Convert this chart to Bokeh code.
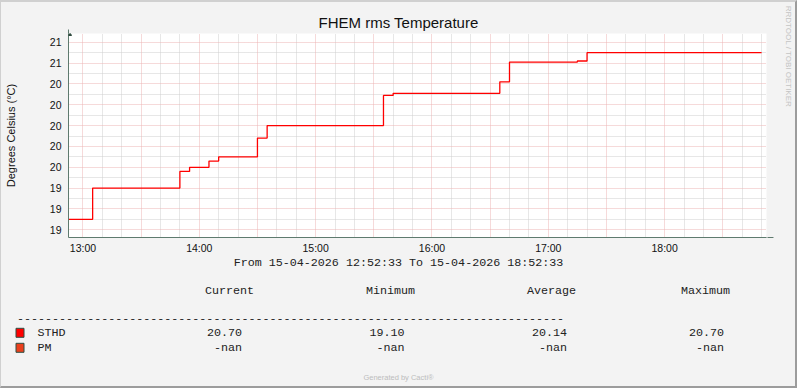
import math
import pandas as pd
from bokeh.plotting import figure
from bokeh.layouts import column, row
from bokeh.models import (Range1d, FixedTicker, DatetimeTickFormatter, PrintfTickFormatter,
                          Grid, Arrow, NormalHead)
from bokeh.core.properties import value
from bokeh.embed import file_html
from bokeh.resources import INLINE

# ---------------- data ----------------
date = "2026-04-15"
start_time = "12:52:33"
end_time = "18:52:33"
step_times = ["12:52:33", "13:05", "13:50", "13:55", "14:05", "14:10", "14:30", "14:35",
              "15:35", "15:40", "16:35", "16:40", "17:15", "17:20", "18:50"]
sthd_values = [19.10, 19.40, 19.56, 19.60, 19.66, 19.70, 19.88, 20.00,
               20.29, 20.31, 20.42, 20.61, 20.62, 20.70, 20.70]
x_tick_labels = ["13:00", "14:00", "15:00", "16:00", "17:00", "18:00"]
y_ticks = [19.0, 19.2, 19.4, 19.6, 19.8, 20.0, 20.2, 20.4, 20.6, 20.8]
y_min, y_max = 18.926, 20.884
series_names = ["STHD", "PM"]
series_colors = ["#FF0000", "#EA3F1C"]
stat_headers = ["Current", "Minimum", "Average", "Maximum"]
sthd_stats = ["20.70", "19.10", "20.14", "20.70"]
pm_stats = ["-nan", "-nan", "-nan", "-nan"]
title_text = "FHEM rms Temperature"
y_label = "Degrees Celsius (°C)"
range_text = "From 15-04-2026 12:52:33 To 15-04-2026 18:52:33"
footer_text = "Generated by Cacti®"
side_text = "RRDTOOL / TOBI OETIKER"


def ts(t):
    return pd.Timestamp(f"{date} {t}").value / 1e6


x0, x1 = ts(start_time), ts(end_time)
xs = [ts(t) for t in step_times]

BG = "#F3F3F3"
W, H = 797, 388
BL, BT, BR, BB = 1, 2, 2, 2          # page border widths
FL, FR, FT, FB = 66, 766, 33, 237    # plot frame, absolute px
SPLIT = 256                          # absolute y where legend figure starts
SIDE = 775                           # absolute x where the side strip starts
IW = W - BL - BR


def blank(fig):
    fig.frame_align = False
    fig.background_fill_color = BG
    fig.border_fill_color = BG
    fig.outline_line_color = None
    fig.xgrid.visible = False
    fig.ygrid.visible = False


# ---------------- main chart ----------------
p = figure(width=SIDE - BL, height=SPLIT - BT, output_backend="svg", toolbar_location=None,
           x_axis_type="datetime",
           x_range=Range1d(x0, x1), y_range=Range1d(y_min, y_max),
           min_border_left=FL - BL, min_border_right=SIDE - FR,
           min_border_top=FT - BT, min_border_bottom=SPLIT - FB)
p.frame_align = False
p.background_fill_color = "white"
p.border_fill_color = BG
p.outline_line_color = None

p.title.text = title_text
p.title.text_font = "Liberation Sans"
p.title.text_font_size = "15px"
p.title.text_font_style = "normal"
p.title.text_color = "#111111"
p.title.align = "left"
p.title.offset = 316 - FL
p.title.standoff = 5

# grids
p.xgrid.visible = False
p.ygrid.visible = False
minor_x, major_x = [], []
t = ts("12:50")
while t <= x1:
    if t >= x0:
        if int(round((t - ts("13:00")) / 60000)) % 30 == 0:
            major_x.append(t)
        else:
            minor_x.append(t)
    t += 10 * 60000
minor_y = [v + 0.1 for v in y_ticks]
for dim, ticks, col in [(0, minor_x, "#CFCFCF"), (1, minor_y, "#CFCFCF"),
                        (0, major_x, "#EDB4B4"), (1, y_ticks, "#EDB4B4")]:
    p.add_layout(Grid(dimension=dim, ticker=FixedTicker(ticks=ticks),
                      grid_line_color=col, grid_line_dash="1 1", grid_line_width=1))

# series
p.step(xs, sthd_values, mode="after", line_color=series_colors[0], line_width=1.3)

# axes
axis_col = "#5E7A6E"
p.xaxis.ticker = FixedTicker(ticks=[ts(l) for l in x_tick_labels])
p.xaxis.formatter = DatetimeTickFormatter(hours="%H:%M", hourmin="%H:%M", minutes="%H:%M",
                                          minsec="%H:%M", days="%H:%M", context=None)
p.yaxis.ticker = FixedTicker(ticks=y_ticks)
p.yaxis.formatter = PrintfTickFormatter(format="%.0f")
for ax in (p.xaxis, p.yaxis):
    ax.axis_line_color = axis_col
    ax.axis_line_width = 1
    ax.major_tick_out = 0
    ax.major_tick_in = 0
    ax.minor_tick_out = 0
    ax.minor_tick_in = 0
    ax.major_label_text_font = "Liberation Sans"
    ax.major_label_text_font_size = "10.5px"
    ax.major_label_text_color = "#111111"
p.xaxis.major_label_standoff = 4
p.yaxis.major_label_standoff = 7
p.yaxis.axis_label = y_label
p.yaxis.axis_label_text_font = "Liberation Sans"
p.yaxis.axis_label_text_font_size = "11px"
p.yaxis.axis_label_text_font_style = "normal"
p.yaxis.axis_label_text_color = "#111111"
p.yaxis.axis_label_standoff = 30

# axis arrows
ms_per_px = (x1 - x0) / (FR - FL)
deg_per_px = (y_max - y_min) / (FB - FT)
p.add_layout(Arrow(x_start=x1, y_start=y_min, x_end=x1 + 7 * ms_per_px, y_end=y_min,
                   line_color=axis_col, line_width=1,
                   end=NormalHead(size=6, fill_color="#2E4A3E", line_color="#2E4A3E")))
p.add_layout(Arrow(x_start=x0, y_start=y_max, x_end=x0, y_end=y_max + 4 * deg_per_px,
                   line_color=axis_col, line_width=1,
                   end=NormalHead(size=6, fill_color="#2E4A3E", line_color="#2E4A3E")))

# ---------------- side strip (vertical credit) ----------------
s = figure(width=W - BR - SIDE, height=SPLIT - BT, output_backend="svg", toolbar_location=None,
           x_range=Range1d(SIDE, W - BR), y_range=Range1d(SPLIT, BT),
           x_axis_location=None, y_axis_location=None,
           min_border_left=0, min_border_right=0, min_border_top=0, min_border_bottom=0)
blank(s)
s.text(x=[788], y=[56], text=[side_text], angle=-math.pi / 2,
       text_font=value("Liberation Sans"), text_font_size=value("8px"),
       text_color="#C4C4C4", text_align="center", text_baseline="middle")

# ---------------- legend figure ----------------
q = figure(width=IW, height=H - BB - SPLIT, output_backend="svg", toolbar_location=None,
           x_range=Range1d(BL, W - BR), y_range=Range1d(H - BB, SPLIT),
           x_axis_location=None, y_axis_location=None,
           min_border_left=0, min_border_right=0, min_border_top=0, min_border_bottom=0)
blank(q)

mono = value("Liberation Mono")
fs = value("11.7px")
txt_col = "#222222"
q.text(x=[398], y=[262.7], text=[range_text], text_font=mono, text_font_size=fs,
       text_color=txt_col, text_align="center", text_baseline="middle")
header_left = [204.5, 365.5, 526.5, 680.5]
q.text(x=header_left, y=[290.7] * 4, text=stat_headers, text_font=mono, text_font_size=fs,
       text_color=txt_col, text_align="left", text_baseline="middle")
q.text(x=[16.5], y=[318.3], text=["-" * 78], text_font=mono, text_font_size=fs,
       text_color=txt_col, text_align="left", text_baseline="middle")
row_y = [332.3, 347.3]
value_right = [241.5, 404, 566.5, 723.5]
q.quad(left=[15.5, 15.5], right=[23.5, 23.5], top=[r - 4.5 for r in row_y],
       bottom=[r + 4.5 for r in row_y], fill_color=series_colors, line_color="#2F4F44",
       line_width=1)
q.text(x=[37, 37], y=row_y, text=series_names, text_font=mono, text_font_size=fs,
       text_color=txt_col, text_align="left", text_baseline="middle")
for ry, stats in zip(row_y, [sthd_stats, pm_stats]):
    q.text(x=value_right, y=[ry] * 4, text=stats, text_font=mono, text_font_size=fs,
           text_color=txt_col, text_align="right", text_baseline="middle")
q.text(x=[398], y=[377.3], text=[footer_text], text_font=value("Liberation Sans"),
       text_font_size=value("7.5px"), text_color="#BDBDBD", text_align="center",
       text_baseline="middle")

layout = column(row(p, s, spacing=0), q, spacing=0,
                styles={"border-top": f"{BT}px solid #D0D0D0",
                        "border-left": f"{BL}px solid #D0D0D0",
                        "border-right": f"{BR}px solid #9C9C9C",
                        "border-bottom": f"{BB}px solid #9C9C9C",
                        "background-color": BG})

open("out.html", "w").write(file_html(layout, INLINE))
